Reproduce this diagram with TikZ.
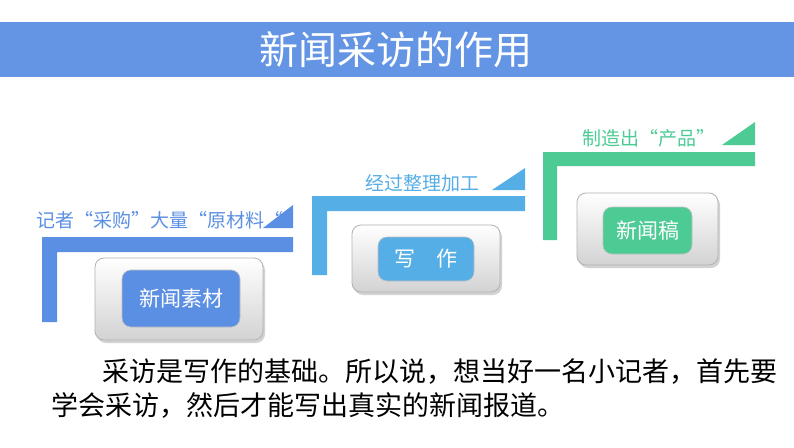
\documentclass[tikz,border=0pt]{standalone}
\usepackage{fontspec}
\newfontfamily\cjk{Noto Sans CJK SC}
\definecolor{bblue}{HTML}{5B8FE3}
\definecolor{ccyan}{HTML}{56AEE6}
\definecolor{ggreen}{HTML}{4DCB95}
\tikzset{
 outerbox/.style={rounded corners=9pt,draw=gray!60,line width=0.8pt,top color=white,bottom color=gray!35,drop shadow={shadow xshift=2pt,shadow yshift=-3pt,opacity=0.35}},
 innerbox/.style={rounded corners=9pt,font=\cjk\fontsize{21}{23}\selectfont,text=white,draw=gray!50,line width=0.6pt},
 lab/.style={font=\cjk\fontsize{19}{21}\selectfont,anchor=south east,inner sep=0pt}
}
\usetikzlibrary{shadows}
\begin{document}
\begin{tikzpicture}[x=1pt,y=-1pt]
\useasboundingbox (0,0) rectangle (794,447);
\fill[white] (0,0) rectangle (794,447);
\fill[bblue!95] (0,22) rectangle (794,77);
\node[font=\cjk\fontsize{39}{41}\selectfont,text=white] (title) at (396,50) {新闻采访的作用};
% step 1
\fill[bblue] (42,322) -- (42,237) -- (293,237) -- (293,252) -- (57,252) -- (57,322) -- cycle;
\fill[bblue] (263,228) -- (293,228) -- (293,205) -- cycle;
\node[lab,text=bblue] (l1) at (284,229) {记者“采购”大量“原材料“};
\path[outerbox] (95,258) rectangle (263,340);
\node[innerbox,fill=bblue,minimum width=118pt,minimum height=57pt] (b1) at (181,298.5) {新闻素材};
% step 2
\fill[ccyan] (312,275) -- (312,196) -- (525,196) -- (525,211) -- (327,211) -- (327,275) -- cycle;
\fill[ccyan] (492,190) -- (525,190) -- (525,168) -- cycle;
\node[lab,text=ccyan] (l2) at (480,192) {经过整理加工};
\path[outerbox] (352,225) rectangle (500,292);
\node[innerbox,fill=ccyan,minimum width=96pt,minimum height=44pt] (b2) at (426,259) {写\quad 作};
% step 3
\fill[ggreen] (543,240) -- (543,152) -- (755,152) -- (755,166) -- (557,166) -- (557,240) -- cycle;
\fill[ggreen] (722,145) -- (755,145) -- (755,122) -- cycle;
\node[lab,text=ggreen] (l3) at (716,147) {制造出“产品”};
\path[outerbox] (577,193) rectangle (718,265);
\node[innerbox,fill=ggreen,minimum width=89pt,minimum height=47pt] (b3) at (647.5,230.5) {新闻稿};
% bottom text
\node[font=\cjk\fontsize{27}{29}\selectfont,anchor=west,inner sep=0pt] (t1) at (102,372) {采访是写作的基础。所以说，想当好一名小记者，首先要};
\node[font=\cjk\fontsize{27}{29}\selectfont,anchor=west,inner sep=0pt] (t2) at (51,405) {学会采访，然后才能写出真实的新闻报道。};
\end{tikzpicture}
\end{document}
